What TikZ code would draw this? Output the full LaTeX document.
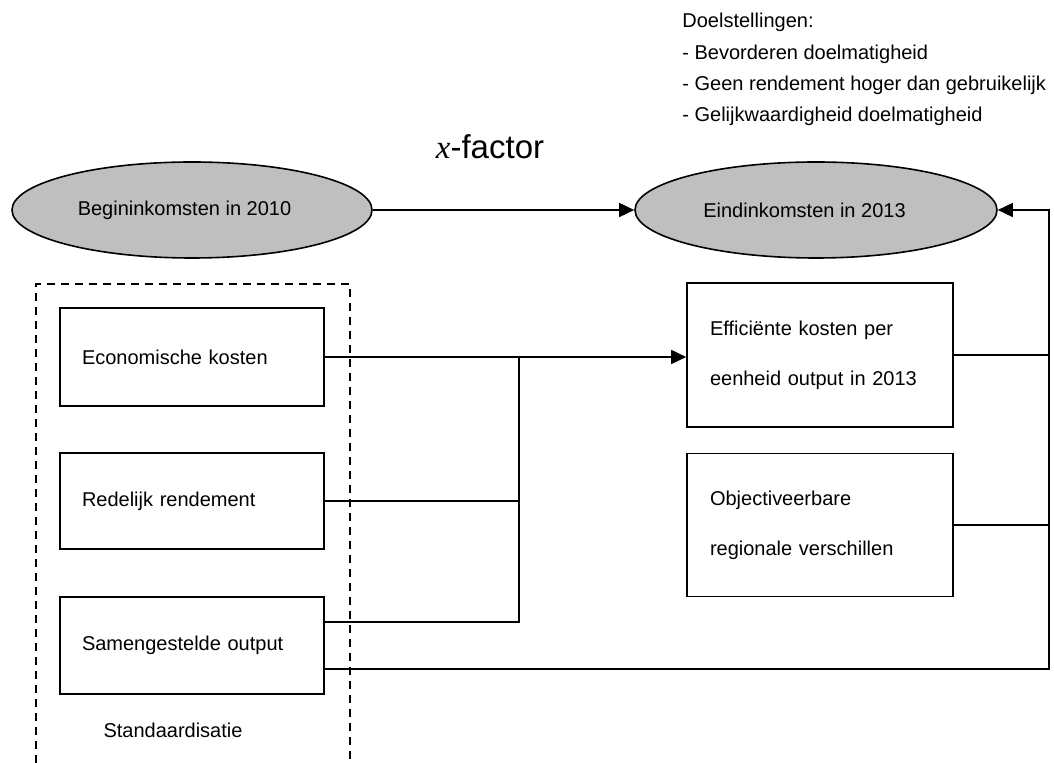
\documentclass[tikz,border=0pt]{standalone}
\usepackage{fontspec}
\setmainfont{Liberation Sans}
\newfontfamily\timesfont{Liberation Serif}
\usetikzlibrary{shapes.geometric,arrows.meta,positioning}

\begin{document}
\begin{tikzpicture}[x=0.5pt,y=-0.5pt,line join=miter,font=\fontsize{10}{12}\selectfont]
        \tikzset{
                inkomen/.style={ellipse,draw,fill=gray!50,line width=0.8pt,minimum width=180pt,minimum height=48pt},
                blok/.style={rectangle,draw,line width=0.8pt,minimum width=132pt,text width=110pt,inner xsep=11pt,align=left,font=\fontsize{10}{25}\selectfont},
                pijl/.style={-{Triangle[length=7.5pt,width=7pt]},line width=0.8pt},
                lijn/.style={line width=0.8pt}
        }
        \useasboundingbox (0,0) rectangle (1054,763);
        % kader standaardisatie
        \draw[line width=0.6pt,dash pattern=on 4pt off 3pt] (36,763) -- (36,284) -- (350,284) -- (350,763);
        % inkomsten
        \node[inkomen,label={[xshift=-3.75pt]center:Begininkomsten in 2010}] (begin) at (192,210) {};
        \node[inkomen,minimum width=181pt,label={[xshift=-5.75pt]center:Eindinkomsten in 2013}] (eind) at (816,210) {};
        \node[font=\fontsize{16.5}{20}\selectfont] (xfactor) at (490,147) {{\timesfont\itshape x}-factor};
        % doelstellingen
        \foreach \regel [count=\i from 0] in {Doelstellingen:,- Bevorderen doelmatigheid,- Geen rendement hoger dan gebruikelijk,- Gelijkwaardigheid doelmatigheid}
                \node[anchor=base west,inner sep=0pt] (doel\i) at (682,28+31.3*\i) {\regel};
        % blokken
        \node[blok,minimum height=49pt] (ekosten) at (192,357) {Economische kosten};
        \node[blok,minimum height=48pt] (rendement) at (192,501) {Redelijk rendement};
        \node[blok,minimum height=48.5pt] (output) at (192,645.5) {Samengestelde output};
        \node[blok,minimum width=133pt,minimum height=72pt] (efficient) at (820,355) {Efficiënte kosten per\\eenheid output in 2013};
        \node[blok,minimum width=133pt,minimum height=71.5pt] (regionaal) at (820,525) {Objectiveerbare\\regionale verschillen};
        \node (standaard) at (173,730) {Standaardisatie};
        \coordinate (knoop) at (519,357);
        \coordinate (hoek) at (1049,210);
        % verbindingen
        \draw[pijl] (begin.east) -- (eind.west);
        \draw[pijl] (ekosten.east) -- (ekosten.east -| efficient.west);
        \draw[lijn] (rendement.east) -- (rendement.east -| knoop);
        \draw[lijn] (output.east |- 0,622) -| (knoop);
        \draw[pijl] (output.east |- 0,669) -| (hoek) -- (eind.east);
        \draw[lijn] (efficient.east) -- (efficient.east -| hoek);
        \draw[lijn] (regionaal.east) -- (regionaal.east -| hoek);
\end{tikzpicture}
\end{document}
